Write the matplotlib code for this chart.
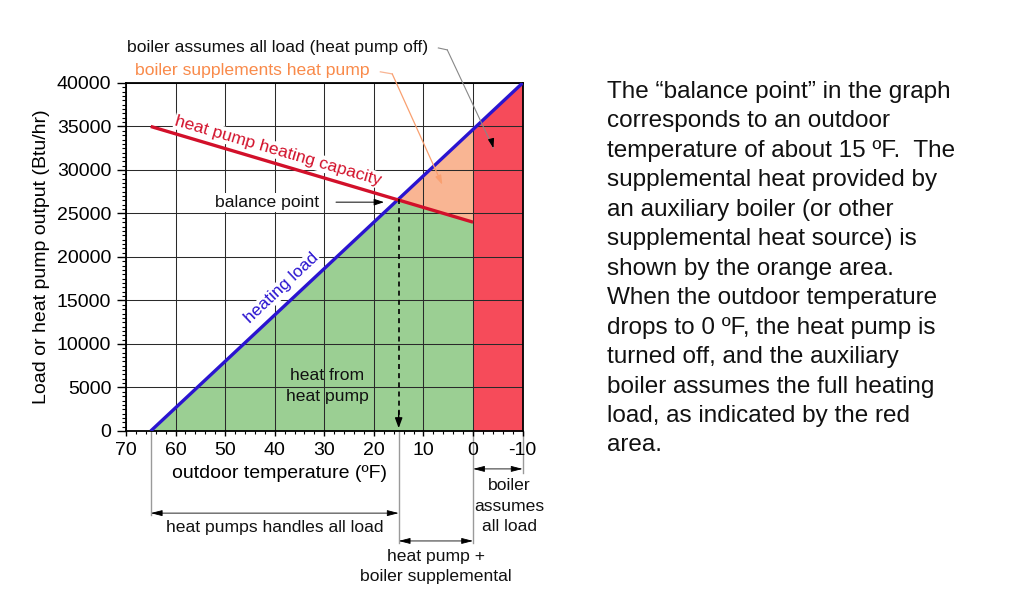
import numpy as np
import matplotlib
matplotlib.use("Agg")
import matplotlib.pyplot as plt
from matplotlib.ticker import MultipleLocator

plt.rcParams['font.family'] = ['Liberation Sans', 'DejaVu Sans']
plt.rcParams['axes.unicode_minus'] = False

# ---- data ----
load_temps = [65, -10]            # heating load line (deg F)
load_values = [0, 40000]          # Btu/hr
cap_temps = [65, 0]               # heat pump capacity line
cap_values = [35000, 24000]
balance_temp = 15
cutoff_temp = 0
xticks = [70, 60, 50, 40, 30, 20, 10, 0, -10]
yticks = [0, 5000, 10000, 15000, 20000, 25000, 30000, 35000, 40000]

GREEN = '#9BCF93'
ORANGE = '#F9B593'
RED_FILL = '#F64B5A'
RED_LINE = '#D2102A'
BLUE = '#2A14D0'


def load_at(t):
    return np.interp(-np.asarray(t, float), [-v for v in load_temps], load_values)


def cap_at(t):
    return np.interp(-np.asarray(t, float), [-v for v in cap_temps], cap_values)


fig = plt.figure(figsize=(10.24, 5.99), dpi=100)
ax = fig.add_axes([0.1230, 0.2805, 0.3874, 0.5810])
ax.set_xlim(70, -10)
ax.set_ylim(0, 40000)

# fills
xs_green = np.linspace(load_temps[0], cutoff_temp, 600)
green_top = np.minimum(load_at(xs_green), cap_at(xs_green))
ax.fill_between(xs_green, 0, green_top, color=GREEN, lw=0, zorder=1)
xs_or = np.linspace(balance_temp + 1, cutoff_temp, 300)
ax.fill_between(xs_or, cap_at(xs_or), np.maximum(load_at(xs_or), cap_at(xs_or)),
                color=ORANGE, lw=0, zorder=1)
xs_red = np.array([cutoff_temp, load_temps[1]])
ax.fill_between(xs_red, 0, load_at(xs_red), color=RED_FILL, lw=0, zorder=1)

# grid
ax.set_axisbelow(False)
ax.set_xticks(xticks)
ax.set_yticks(yticks)
ax.xaxis.set_minor_locator(MultipleLocator(2))
ax.yaxis.set_minor_locator(MultipleLocator(500))
ax.grid(True, which='major', color='#2a2a2a', lw=0.75)
ax.tick_params(axis='x', which='major', direction='out', length=3.8, width=1, pad=4.0, labelsize=14)
ax.tick_params(axis='x', which='minor', direction='out', length=2.5, width=0.8)
ax.tick_params(axis='y', which='major', direction='out', length=6.5, width=1, pad=4.0, labelsize=14)
ax.tick_params(axis='y', which='minor', direction='out', length=3, width=0.8)
for s in ax.spines.values():
    s.set_linewidth(1.3)
    s.set_zorder(5)

# lines
ax.plot(load_temps, load_values, color=BLUE, lw=2.4, zorder=6, solid_capstyle='butt')
ax.plot(cap_temps, cap_values, color=RED_LINE, lw=2.4, zorder=6, solid_capstyle='butt')

bal_load = float(load_at(balance_temp))
ax.plot([balance_temp, balance_temp], [bal_load, 1800], color='black', lw=1.2,
        ls=(0, (3, 2.5)), zorder=6)
ax.annotate('', xy=(balance_temp, 0), xytext=(balance_temp, 2600),
            arrowprops=dict(arrowstyle='-|>,head_length=0.6,head_width=0.22', color='black', lw=1.0),
            zorder=6)

# labels
ax.set_xlabel('outdoor temperature (ºF)', fontsize=14)
ax.xaxis.set_label_coords(0.386, -0.098)
ax.set_ylabel('Load or heat pump output (Btu/hr)', fontsize=14)
ax.yaxis.set_label_coords(-0.192, 0.5)

txt_kw = dict(fontsize=12.6)
LS = 1.45
ax.text(39.3, 32200, 'heat pump heating capacity', color=RED_LINE, rotation=-16.3,
        ha='center', va='center', rotation_mode='anchor', zorder=4,
        bbox=dict(boxstyle='square,pad=0.05', fc='white', ec='none'), **txt_kw)
ax.text(38.6, 16400, 'heating load', color=BLUE, rotation=43.2,
        ha='center', va='center', rotation_mode='anchor', zorder=4,
        bbox=dict(boxstyle='square,pad=0.05', fc='white', ec='none'), **txt_kw)
ax.text(29.4, 5170, 'heat from\nheat pump', color='#111111', ha='center', va='center',
        linespacing=LS, zorder=4, **txt_kw)
ax.text(31.0, 26250, 'balance point', color='#111111', ha='right', va='center', zorder=4,
        bbox=dict(boxstyle='square,pad=0.1', fc='white', ec='none'), **txt_kw)
ax.annotate('', xy=(balance_temp + 2.4, 26300), xytext=(28.2, 26300),
            arrowprops=dict(arrowstyle='-|>,head_length=0.6,head_width=0.2', color='black', lw=0.7),
            zorder=6)

# annotations above the plot
bt = ('data', 'axes fraction')
ax.text(69.8, 1.1006, 'boiler assumes all load (heat pump off)', transform=ax.get_xaxis_transform(),
        ha='left', va='center', color='#111111', **txt_kw)
ax.plot([7.0, 5.2], [1.1006, 1.095], transform=ax.get_xaxis_transform(), color='#888888',
        lw=0.8, clip_on=False)
ax.annotate('', xy=(-4.1, 32500), xycoords='data', xytext=(5.2, 1.095), textcoords=bt,
            arrowprops=dict(arrowstyle='-', color='#888888',
                            lw=0.8, shrinkA=0, shrinkB=0), annotation_clip=False, zorder=7)
ax.annotate('', xy=(-4.1, 32500), xycoords='data', xytext=(-3.7, 33400), textcoords='data',
            arrowprops=dict(arrowstyle='-|>,head_length=0.55,head_width=0.18', color='black',
                            lw=0.8, shrinkA=0, shrinkB=0), zorder=7)

ax.text(68.2, 1.037, 'boiler supplements heat pump', transform=ax.get_xaxis_transform(),
        ha='left', va='center', color='#F98A4A', **txt_kw)
ax.plot([18.7, 16.3], [1.032, 1.026], transform=ax.get_xaxis_transform(), color='#F9B593',
        lw=0.9, clip_on=False)
ax.annotate('', xy=(6.2, 28300), xycoords='data', xytext=(16.3, 1.026), textcoords=bt,
            arrowprops=dict(arrowstyle='-|>,head_length=0.55,head_width=0.18', color='#F9A070',
                            lw=0.9, shrinkA=0, shrinkB=0), annotation_clip=False, zorder=7)

# range brackets below the axis
xt = ax.get_xaxis_transform()
GRAY = '#9a9a9a'
for t, ylo in [(load_temps[0], -0.241), (balance_temp, -0.322), (cutoff_temp, -0.322),
               (load_temps[1], -0.121)]:
    ax.plot([t, t], [0, ylo], transform=xt, color=GRAY, lw=1.0, clip_on=False, zorder=0)


def bracket(x0, x1, y):
    ax.annotate('', xy=(x1, y), xycoords=xt, xytext=(x0, y), textcoords=xt,
                arrowprops=dict(arrowstyle='<|-|>,head_length=0.7,head_width=0.18', color='black',
                                lw=0.6, shrinkA=0, shrinkB=0), annotation_clip=False)


bracket(load_temps[0], balance_temp, -0.236)
bracket(balance_temp, cutoff_temp, -0.316)
bracket(cutoff_temp, load_temps[1], -0.109)
ax.text((load_temps[0] + balance_temp) / 2, -0.276, 'heat pumps handles all load', transform=xt,
        ha='center', va='center', color='#111111', **txt_kw)
ax.text((balance_temp + cutoff_temp) / 2, -0.389, 'heat pump +\nboiler supplemental', transform=xt,
        ha='center', va='center', linespacing=LS, color='#111111', **txt_kw)
ax.text(-7.3, -0.216, 'boiler\nassumes\nall load', transform=xt,
        ha='center', va='center', linespacing=LS, color='#111111', **txt_kw)

# explanatory text on the right
lines = ['The “balance point” in the graph',
         'corresponds to an outdoor',
         'temperature of about 15 ºF.  The',
         'supplemental heat provided by',
         'an auxiliary boiler (or other',
         'supplemental heat source) is',
         'shown by the orange area.',
         'When the outdoor temperature',
         'drops to 0 ºF, the heat pump is',
         'turned off, and the auxiliary',
         'boiler assumes the full heating',
         'load, as indicated by the red',
         'area.']
for i, line in enumerate(lines):
    ypx = 92 + i * 29.45
    fig.text(607 / 1024, 1 - ypx / 599, line, ha='left', va='center', fontsize=17.5, color='#111111')

fig.savefig('out.png', dpi=100)
